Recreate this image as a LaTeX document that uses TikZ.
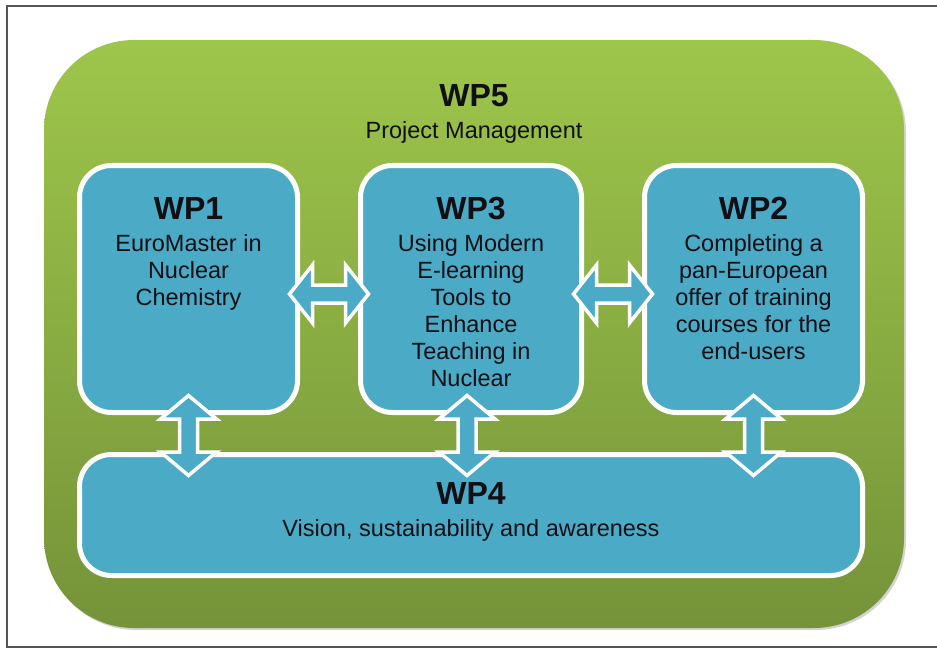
\documentclass[tikz,border=0pt]{standalone}
\usepackage{fontspec}
\setmainfont{Liberation Sans}
\usetikzlibrary{shadows,calc}
\definecolor{gtop}{RGB}{158,198,75}
\definecolor{gbot}{RGB}{117,147,57}
\definecolor{wpblue}{RGB}{75,171,198}
\definecolor{framegray}{RGB}{85,85,85}
\definecolor{txt}{RGB}{15,15,20}
\tikzset{
  greenbox/.style={rectangle, rounded corners=90pt, top color=gtop, bottom color=gbot,
    inner sep=0pt, outer sep=0pt,
    drop shadow={shadow xshift=2pt, shadow yshift=-2pt, opacity=0.35}},
  bluebox/.style={rectangle, rounded corners=32pt, fill=wpblue, draw=white, line width=5pt,
    inner sep=0pt, outer sep=0pt,
    drop shadow={shadow xshift=2pt, shadow yshift=-2pt, opacity=0.35}},
  wptext/.style={align=center, inner sep=0pt, anchor=north, text=txt,
    font=\fontsize{23.5}{27}\selectfont},
  blockarrow/.style={fill=wpblue, draw=white, line width=3.5pt, line join=miter,
    drop shadow={shadow xshift=1.5pt, shadow yshift=-1.5pt, opacity=0.3}},
}
\newcommand{\wptitle}[1]{{\fontsize{32}{27}\selectfont\bfseries #1}\\[5pt]}
\begin{document}
\begin{tikzpicture}[x=1pt,y=-1pt]
\useasboundingbox (0,0) rectangle (937,650);
% frame
\draw[framegray, line width=1.6pt] (940,6) -- (7,6) -- (7,647) -- (940,647);
% boxes
\node[greenbox, minimum width=860pt, minimum height=588pt] (wp5) at (474,334) {};
\node[bluebox, minimum width=218pt, minimum height=247pt] (wp1) at (188.5,289) {};
\node[bluebox, minimum width=221pt, minimum height=247pt] (wp3) at (471,289) {};
\node[bluebox, minimum width=218pt, minimum height=247pt] (wp2) at (753.5,289) {};
\node[bluebox, minimum width=783pt, minimum height=121pt] (wp4) at (471,515) {};
% texts
\node[wptext] (t5) at (474,84) {\wptitle{WP5}Project Management};
\node[wptext] (t1) at (wp1.north |- 0,197) {\wptitle{WP1}EuroMaster in\\Nuclear\\Chemistry};
\node[wptext] (t3) at (wp3.north |- 0,197) {\wptitle{WP3}Using Modern\\E-learning\\Tools to\\Enhance\\Teaching in\\Nuclear};
\node[wptext] (t2) at (wp2.north |- 0,197) {\wptitle{WP2}Completing a\\pan-European\\offer of training\\courses for the\\end-users};
\node[wptext] (t4) at (471,482) {\wptitle{WP4}Vision, sustainability and awareness};
% arrow centres
\coordinate (a13) at ($(wp1.east)!0.5!(wp3.west)+(0,5)$);
\coordinate (a32) at ($(wp3.east)!0.5!(wp2.west)+(0,5)$);
\coordinate (a14) at ($(wp1.south)!0.5!(wp1.south |- wp4.north)+(0,2)$);
\coordinate (a34) at ($(wp3.south)!0.5!(wp3.south |- wp4.north)+(-4,2)$);
\coordinate (a24) at ($(wp2.south)!0.5!(wp2.south |- wp4.north)+(0,2)$);
% horizontal double arrows
\foreach \c in {a13,a32}{
  \draw[blockarrow, shift={(\c)}] (-39.5,0) -- (-16.5,-29) -- (-16.5,-9) -- (16.5,-9) -- (16.5,-29)
     -- (39.5,0) -- (16.5,29) -- (16.5,9) -- (-16.5,9) -- (-16.5,29) -- cycle;
}
% vertical double arrows
\foreach \c in {a14,a34,a24}{
  \draw[blockarrow, shift={(\c)}] (0,-40) -- (28,-16.5) -- (9,-16.5) -- (9,16.5) -- (28,16.5)
     -- (0,40) -- (-28,16.5) -- (-9,16.5) -- (-9,-16.5) -- (-28,-16.5) -- cycle;
}
\end{tikzpicture}
\end{document}
